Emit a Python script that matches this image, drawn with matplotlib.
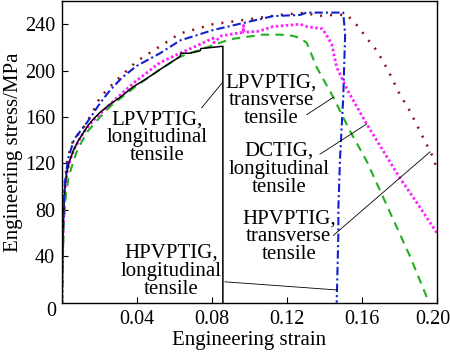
import matplotlib
matplotlib.use("Agg")
import matplotlib.pyplot as plt
from matplotlib.transforms import ScaledTranslation

plt.rcParams['font.family'] = ['Liberation Serif', 'DejaVu Serif']

# LPVPTIG, longitudinal tensile (black solid)
lpl_strain = [0, 0.0003, 0.0008, 0.0015, 0.0025, 0.004, 0.006, 0.0085, 0.0112, 0.014,
              0.0166, 0.0203, 0.0256, 0.031, 0.0379, 0.045, 0.0523, 0.058, 0.0629,
              0.0635, 0.068, 0.0736, 0.074, 0.08, 0.0858, 0.0858]
lpl_stress = [0, 40, 75, 98, 112, 122, 131, 139, 146, 153,
              158, 164, 171, 177, 186, 193, 201, 207, 212,
              215, 215, 217, 219, 220, 221, 0]

# LPVPTIG, transverse tensile (green dashed)
lpt_strain = [0, 0.0004, 0.001, 0.002, 0.0035, 0.0059, 0.0085, 0.0139, 0.0203, 0.0256,
              0.031, 0.0398, 0.0523, 0.0629, 0.079, 0.0896, 0.098, 0.107, 0.116, 0.123,
              0.127, 0.1305, 0.1323, 0.1358, 0.143, 0.1447, 0.1536, 0.1625, 0.1732,
              0.1856, 0.1945, 0.1955]
lpt_stress = [0, 35, 68, 92, 108, 121, 133, 148, 160, 169,
              176, 187, 201, 212, 221, 227, 229, 231, 231, 230,
              228, 224, 217, 203, 182, 177, 148, 122, 84,
              40, 5, 0]

# DCTIG, longitudinal tensile (magenta dotted)
dc_strain = [0, 0.0003, 0.0008, 0.0015, 0.0028, 0.0045, 0.007, 0.0112, 0.0166, 0.0256,
             0.0379, 0.0523, 0.0629, 0.07, 0.0806, 0.081, 0.085, 0.0966, 0.0968, 0.097,
             0.105, 0.1126, 0.12, 0.127, 0.1305, 0.139, 0.1438, 0.1465, 0.15, 0.153,
             0.1625, 0.18, 0.191, 0.2]
dc_stress = [0, 40, 75, 98, 113, 124, 134, 146, 157, 171,
             189, 207, 215, 220, 228, 224, 230, 233, 239, 233,
             234, 238, 239, 240, 238, 236, 223, 203, 191, 181,
             154, 108, 82, 60]

# HPVPTIG, longitudinal tensile (blue dash-dot)
hpl_strain = [0, 0.0003, 0.0008, 0.0015, 0.0032, 0.0065, 0.0132, 0.0203, 0.0256, 0.032,
              0.0398, 0.0523, 0.063, 0.0806, 0.0966, 0.1126, 0.127, 0.1305, 0.1376, 0.15,
              0.151, 0.15, 0.1483, 0.1474, 0.1474, 0.1465]
hpl_stress = [0, 45, 80, 103, 124, 141, 155, 172, 183, 194,
              204, 215, 226, 235, 241, 247, 248, 250, 250, 250,
              231, 177, 125, 82, 60, 0]

# HPVPTIG, transverse tensile (brown dotted)
hpt_strain = [0, 0.0003, 0.0008, 0.0015, 0.003, 0.006, 0.0112, 0.0166, 0.0203, 0.0273,
              0.0398, 0.0523, 0.0629, 0.0806, 0.0985, 0.1163, 0.1305, 0.1358, 0.1446, 0.152,
              0.158, 0.1625, 0.168, 0.174, 0.18, 0.1856, 0.1927, 0.198, 0.2]
hpt_stress = [0, 45, 80, 104, 125, 140, 150, 165, 177, 189,
              208, 221, 232, 240, 244, 248, 250, 247, 248, 248,
              238, 228, 217, 200, 180, 165, 142, 125, 115]

labels = ["LPVPTIG,\nlongitudinal\ntensile",
          "LPVPTIG,\ntransverse\ntensile",
          "DCTIG,\nlongitudinal\ntensile",
          "HPVPTIG,\ntransverse\ntensile",
          "HPVPTIG,\nlongitudinal\ntensile"]
label_xy = [(0.0509, 142), (0.1117, 174), (0.1157, 115), (0.121, 57), (0.0581, 27)]
leader_from = [(0.0745, 168), (0.1305, 162), (0.1376, 128), (0.1447, 58), (0.0869, 18)]
leader_to = [(0.0852, 189), (0.1447, 177), (0.1625, 154), (0.1963, 130), (0.1465, 11)]

xticks = [0.04, 0.08, 0.12, 0.16, 0.20]
xtick_labels = ["0.04", "0.08", "0.12", "0.16", "0.20"]
yticks = [40, 80, 120, 160, 200, 240]

fig = plt.figure(figsize=(4.5, 3.54), dpi=100)
ax = fig.add_axes([62 / 450, 1 - 302.7 / 354, 375 / 450, 301.7 / 354])

ax.plot(hpt_strain, hpt_stress, color='#8b1010', lw=1.8, linestyle=(0, (0.8, 3.2)))
ax.plot(lpt_strain, lpt_stress, color='#20b020', lw=1.5, linestyle=(0, (4, 3)))
ax.plot(dc_strain, dc_stress, color='#ff20ff', lw=2.0, linestyle=(0, (0.9, 0.9)))
ax.plot(lpl_strain, lpl_stress, color='black', lw=1.1)
ax.plot(hpl_strain, hpl_stress, color='#1020d0', lw=1.5, linestyle=(0, (4, 1.5, 1, 1.5)))

for (x0, y0), (x1, y1) in zip(leader_from, leader_to):
    ax.plot([x0, x1], [y0, y1], color='black', lw=0.6)
for txt, (x, y) in zip(labels, label_xy):
    ax.text(x, y, txt, ha='center', va='center', fontsize=15, linespacing=0.92)

ax.set_xlim(0, 0.2)
ax.set_ylim(0, 260)
ax.set_xticks(xticks)
ax.set_xticklabels(xtick_labels)
ax.set_yticks(yticks)
ax.tick_params(direction='in', length=4, width=0.8, labelsize=14.5, pad=5)
# nudge the last x label so it stays inside the figure
last = ax.get_xticklabels()[-1]
last.set_transform(last.get_transform() + ScaledTranslation(-4 / 100, 0, fig.dpi_scale_trans))
ax.text(-0.003, -8, "0", ha='right', va='center', fontsize=14.5)
for s in ax.spines.values():
    s.set_linewidth(1.0)

ax.set_xlabel("Engineering strain", fontsize=15, labelpad=2)
ax.set_ylabel("Engineering stress/MPa", fontsize=15, labelpad=1)

fig.savefig("out.png", dpi=100)
